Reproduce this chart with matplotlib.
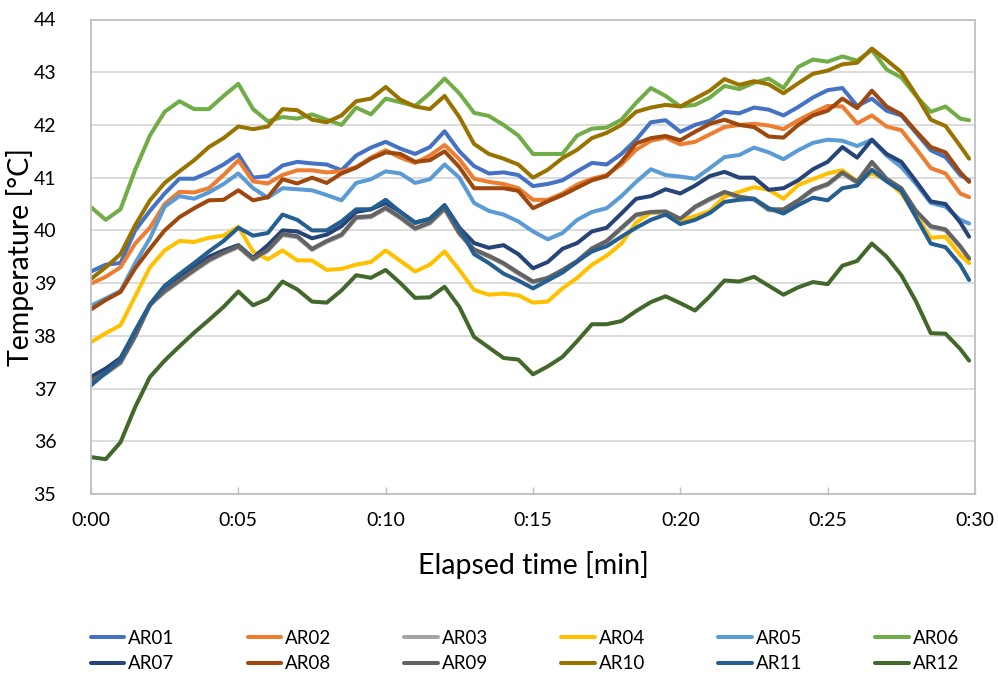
import matplotlib
matplotlib.use("Agg")
import matplotlib.pyplot as plt
from matplotlib.ticker import FixedLocator

plt.rcParams['font.family'] = ['Lato', 'DejaVu Sans']

# elapsed time in minutes (sampling grid)
time_min = [i * 0.5 for i in range(60)] + [29.8]

AR01 = [39.22, 39.35, 39.38, 40.0, 40.37, 40.7, 40.98, 40.98, 41.1, 41.25,
        41.44, 41.0, 41.03, 41.23, 41.3, 41.27, 41.25, 41.14, 41.42, 41.57,
        41.68, 41.55, 41.45, 41.58, 41.88, 41.5, 41.22, 41.08, 41.1, 41.05,
        40.84, 40.88, 40.95, 41.12, 41.28, 41.25, 41.45, 41.72, 42.05, 42.09,
        41.87, 42.0, 42.08, 42.25, 42.22, 42.33, 42.29, 42.18, 42.34, 42.52,
        42.66, 42.7, 42.36, 42.5, 42.27, 42.18, 41.85, 41.52, 41.39, 41.05, 40.95]
AR02 = [38.99, 39.12, 39.3, 39.75, 40.05, 40.5, 40.73, 40.72, 40.8, 41.05,
        41.33, 40.93, 40.89, 41.05, 41.14, 41.14, 41.1, 41.12, 41.2, 41.38,
        41.52, 41.38, 41.28, 41.42, 41.62, 41.35, 40.98, 40.92, 40.88, 40.8,
        40.58, 40.58, 40.7, 40.87, 40.98, 41.05, 41.25, 41.53, 41.7, 41.76,
        41.63, 41.68, 41.82, 41.96, 42.0, 42.02, 41.99, 41.92, 42.09, 42.23,
        42.36, 42.35, 42.03, 42.18, 41.97, 41.9, 41.55, 41.18, 41.08, 40.7, 40.63]
AR03 = [37.12, 37.28, 37.48, 37.98, 38.58, 38.83, 39.03, 39.23, 39.42, 39.56,
        39.68, 39.44, 39.61, 39.91, 39.87, 39.63, 39.78, 39.9, 40.23, 40.25,
        40.41, 40.23, 40.02, 40.13, 40.4, 39.93, 39.62, 39.5, 39.36, 39.18,
        39.01, 39.08, 39.23, 39.4, 39.64, 39.78, 40.03, 40.28, 40.33, 40.34,
        40.2, 40.43, 40.58, 40.71, 40.62, 40.58, 40.38, 40.38, 40.55, 40.76,
        40.86, 41.08, 40.9, 41.28, 40.96, 40.78, 40.35, 40.06, 40.0, 39.68, 39.45]
AR04 = [37.88, 38.05, 38.2, 38.75, 39.3, 39.62, 39.8, 39.78, 39.86, 39.9,
        40.07, 39.6, 39.45, 39.62, 39.43, 39.43, 39.25, 39.27, 39.35, 39.4,
        39.62, 39.42, 39.22, 39.35, 39.6, 39.25, 38.87, 38.78, 38.8, 38.77,
        38.63, 38.65, 38.9, 39.1, 39.35, 39.52, 39.75, 40.15, 40.34, 40.34,
        40.18, 40.27, 40.37, 40.64, 40.73, 40.82, 40.77, 40.6, 40.86, 40.97,
        41.08, 41.14, 40.93, 41.08, 40.95, 40.7, 40.28, 39.86, 39.88, 39.53, 39.38]
AR05 = [38.57, 38.71, 38.85, 39.38, 39.85, 40.45, 40.65, 40.6, 40.72, 40.88,
        41.08, 40.8, 40.62, 40.8, 40.78, 40.76, 40.67, 40.57, 40.9, 40.97,
        41.12, 41.08, 40.9, 40.97, 41.25, 41.0, 40.52, 40.37, 40.3, 40.17,
        39.98, 39.83, 39.95, 40.2, 40.35, 40.42, 40.65, 40.92, 41.16, 41.05,
        41.02, 40.98, 41.18, 41.39, 41.43, 41.57, 41.48, 41.35, 41.52, 41.66,
        41.72, 41.7, 41.6, 41.72, 41.42, 41.2, 40.88, 40.52, 40.45, 40.2, 40.13]
AR06 = [40.44, 40.2, 40.4, 41.15, 41.8, 42.25, 42.45, 42.3, 42.3, 42.55,
        42.78, 42.3, 42.07, 42.15, 42.12, 42.2, 42.1, 42.0, 42.33, 42.2,
        42.5, 42.43, 42.36, 42.6, 42.88, 42.6, 42.23, 42.17, 42.0, 41.8,
        41.45, 41.45, 41.45, 41.8, 41.93, 41.95, 42.1, 42.42, 42.7, 42.55,
        42.35, 42.38, 42.52, 42.74, 42.68, 42.8, 42.88, 42.7, 43.1, 43.24,
        43.2, 43.3, 43.22, 43.42, 43.05, 42.9, 42.55, 42.25, 42.35, 42.12, 42.09]
AR07 = [37.22, 37.38, 37.58, 38.08, 38.58, 38.92, 39.1, 39.3, 39.5, 39.62,
        39.72, 39.48, 39.72, 40.0, 39.98, 39.85, 39.92, 40.08, 40.35, 40.4,
        40.52, 40.35, 40.15, 40.22, 40.48, 40.05, 39.76, 39.67, 39.72, 39.55,
        39.28, 39.4, 39.65, 39.76, 39.98, 40.05, 40.32, 40.6, 40.65, 40.78,
        40.7, 40.85, 41.03, 41.11, 41.0, 41.0, 40.77, 40.8, 40.95, 41.16,
        41.3, 41.58, 41.38, 41.72, 41.45, 41.3, 40.93, 40.55, 40.5, 40.15, 39.88]
AR08 = [38.5, 38.68, 38.83, 39.28, 39.65, 40.0, 40.25, 40.42, 40.57, 40.58,
        40.76, 40.57, 40.63, 40.97, 40.89, 41.0, 40.9, 41.08, 41.19, 41.36,
        41.48, 41.45, 41.3, 41.33, 41.5, 41.2, 40.8, 40.8, 40.8, 40.75,
        40.42, 40.55, 40.67, 40.81, 40.95, 41.03, 41.3, 41.65, 41.75, 41.79,
        41.71, 41.87, 42.02, 42.1, 42.0, 41.96, 41.78, 41.76, 42.0, 42.18,
        42.27, 42.5, 42.32, 42.65, 42.35, 42.2, 41.88, 41.58, 41.48, 41.1, 40.92]
AR09 = [37.15, 37.3, 37.5, 38.0, 38.6, 38.85, 39.05, 39.25, 39.44, 39.58,
        39.7, 39.46, 39.63, 39.93, 39.89, 39.65, 39.8, 39.92, 40.25, 40.27,
        40.43, 40.25, 40.04, 40.15, 40.42, 39.95, 39.64, 39.52, 39.38, 39.2,
        39.03, 39.1, 39.25, 39.42, 39.66, 39.8, 40.05, 40.3, 40.35, 40.36,
        40.22, 40.45, 40.6, 40.73, 40.64, 40.6, 40.4, 40.4, 40.57, 40.78,
        40.88, 41.1, 40.92, 41.3, 40.98, 40.8, 40.37, 40.08, 40.02, 39.7, 39.47]
AR10 = [39.08, 39.3, 39.55, 40.1, 40.57, 40.9, 41.12, 41.33, 41.58, 41.75,
        41.97, 41.92, 41.97, 42.3, 42.28, 42.1, 42.05, 42.18, 42.45, 42.5,
        42.72, 42.48, 42.35, 42.3, 42.55, 42.15, 41.64, 41.45, 41.36, 41.25,
        41.0, 41.15, 41.37, 41.53, 41.75, 41.85, 42.0, 42.25, 42.33, 42.38,
        42.35, 42.5, 42.65, 42.87, 42.76, 42.83, 42.77, 42.6, 42.79, 42.97,
        43.03, 43.15, 43.18, 43.45, 43.23, 43.0, 42.57, 42.1, 41.98, 41.6, 41.36]
AR11 = [37.06, 37.3, 37.55, 38.1, 38.6, 38.95, 39.17, 39.38, 39.6, 39.8,
        40.05, 39.9, 39.95, 40.3, 40.2, 40.0, 40.0, 40.17, 40.4, 40.4,
        40.58, 40.35, 40.14, 40.22, 40.47, 40.05, 39.55, 39.38, 39.18, 39.05,
        38.9, 39.05, 39.2, 39.41, 39.6, 39.7, 39.88, 40.05, 40.2, 40.3,
        40.12, 40.2, 40.33, 40.54, 40.58, 40.6, 40.42, 40.32, 40.48, 40.62,
        40.57, 40.8, 40.85, 41.15, 40.93, 40.75, 40.25, 39.75, 39.68, 39.35, 39.06]
AR12 = [35.7, 35.66, 35.98, 36.65, 37.22, 37.53, 37.8, 38.06, 38.3, 38.55,
        38.84, 38.58, 38.7, 39.03, 38.88, 38.65, 38.63, 38.86, 39.15, 39.1,
        39.25, 39.0, 38.72, 38.73, 38.93, 38.55, 37.98, 37.78, 37.58, 37.55,
        37.27, 37.42, 37.6, 37.9, 38.22, 38.22, 38.28, 38.47, 38.64, 38.75,
        38.62, 38.48, 38.75, 39.05, 39.03, 39.12, 38.95, 38.78, 38.92, 39.02,
        38.98, 39.33, 39.42, 39.75, 39.5, 39.15, 38.65, 38.05, 38.04, 37.75, 37.53]

series_names = ["AR01", "AR02", "AR03", "AR04", "AR05", "AR06",
                "AR07", "AR08", "AR09", "AR10", "AR11", "AR12"]
series_values = [AR01, AR02, AR03, AR04, AR05, AR06,
                 AR07, AR08, AR09, AR10, AR11, AR12]
series_colors = ["#4472C4", "#ED7D31", "#A5A5A5", "#FFC000", "#5B9BD5", "#70AD47",
                 "#264478", "#9E480E", "#636363", "#997300", "#255E91", "#43682B"]

x_ticks = [0, 5, 10, 15, 20, 25, 30]
x_tick_labels = ["0:00", "0:05", "0:10", "0:15", "0:20", "0:25", "0:30"]
y_ticks = [35, 36, 37, 38, 39, 40, 41, 42, 43, 44]

fig = plt.figure(figsize=(9.98, 6.74), dpi=100)
ax = fig.add_axes([91 / 998, 1 - 494 / 674, (975 - 91) / 998, (494 - 19.5) / 674])

handles = []
for name, vals, col in zip(series_names, series_values, series_colors):
    h, = ax.plot(time_min, vals, color=col, lw=2.9, label=name,
                 solid_joinstyle='round', solid_capstyle='round')
    handles.append(h)

ax.set_xlim(0, 30)
ax.set_ylim(35, 44)
ax.xaxis.set_major_locator(FixedLocator(x_ticks))
ax.set_xticklabels(x_tick_labels)
ax.set_yticks(y_ticks)
ax.yaxis.grid(True, color="#D9D9D9", lw=1.3)
ax.set_axisbelow(True)
for sp in ax.spines.values():
    sp.set_color("#BFBFBF")
    sp.set_linewidth(1.3)
ax.tick_params(axis='x', direction='in', length=5, width=1, color="#BFBFBF",
               labelsize=14, pad=13)
ax.tick_params(axis='y', length=0, labelsize=14, pad=25)

ax.set_xlabel("Elapsed time [min]", fontsize=20.5, labelpad=16)
ax.set_ylabel("Temperature [°C]", fontsize=20.5, labelpad=0)

# legend filled row by row (6 columns x 2 rows)
ncol = 6
order = []
for c in range(ncol):
    order += [c, c + ncol]
leg_handles = [handles[i] for i in order]
leg_labels = [series_names[i] for i in order]
fig.legend(leg_handles, leg_labels, loc='center', bbox_to_anchor=(0.526, 1 - 651 / 674),
           ncol=ncol, frameon=False, fontsize=13.5, handlelength=1.8,
           handletextpad=0.2, columnspacing=3.9, labelspacing=0.45)

fig.savefig("out.png", dpi=100)
